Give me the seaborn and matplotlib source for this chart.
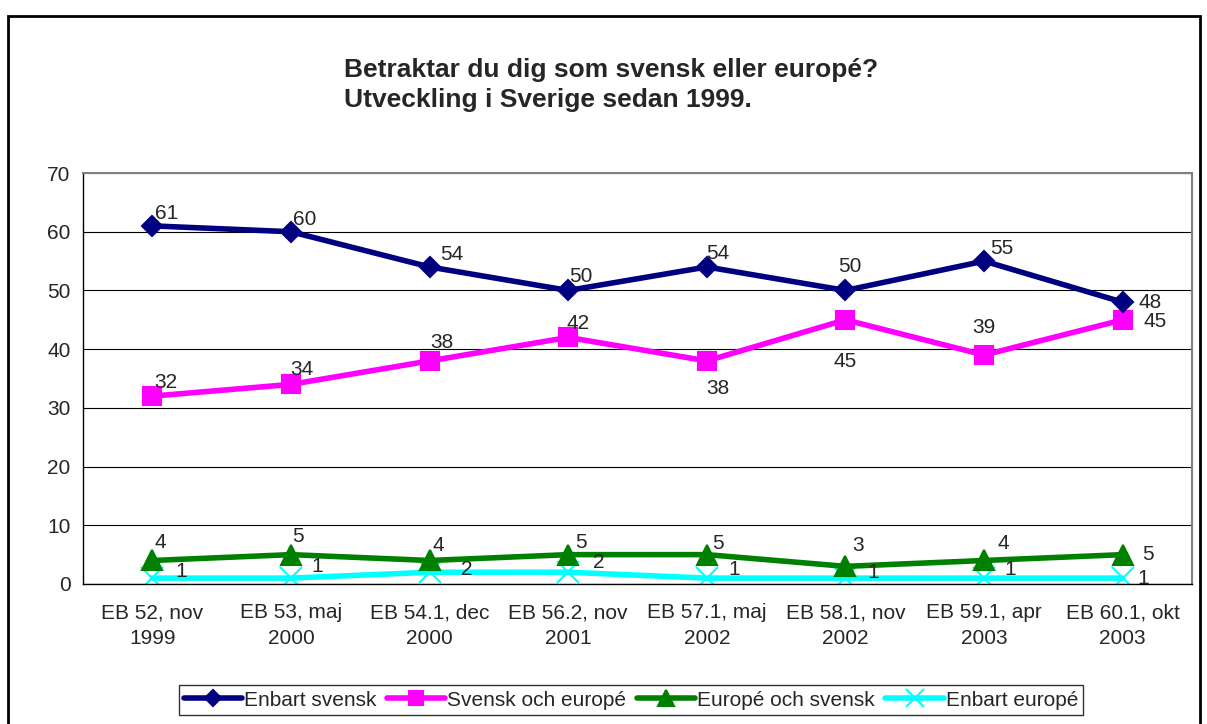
import numpy as np
import pandas as pd
import seaborn as sns
from matplotlib import pyplot as plt
from matplotlib.patches import Rectangle

categories = ['EB 52, nov\n1999', 'EB 53, maj\n2000', 'EB 54.1, dec\n2000', 'EB 56.2, nov\n2001',
              'EB 57.1, maj\n2002', 'EB 58.1, nov\n2002', 'EB 59.1, apr\n2003', 'EB 60.1, okt\n2003']
enbart_svensk = [61, 60, 54, 50, 54, 50, 55, 48]
svensk_och_europe = [32, 34, 38, 42, 38, 45, 39, 45]
europe_och_svensk = [4, 5, 4, 5, 5, 3, 4, 5]
enbart_europe = [1, 1, 2, 2, 1, 1, 1, 1]
series_names = ['Enbart svensk', 'Svensk och europé', 'Europé och svensk', 'Enbart europé']
title = 'Betraktar du dig som svensk eller europé?\nUtveckling i Sverige sedan 1999.'

sns.set_style('white')
plt.rcParams['font.family'] = ['Liberation Sans', 'DejaVu Sans']

rows = []
for name, vals in zip(series_names, [enbart_svensk, svensk_och_europe, europe_och_svensk, enbart_europe]):
    for i, v in enumerate(vals):
        rows.append({'x': i, 'value': v, 'serie': name})
df = pd.DataFrame(rows)

colors = {'Enbart svensk': '#000080', 'Svensk och europé': '#FF00FF',
          'Europé och svensk': '#008000', 'Enbart europé': '#00FFFF'}
markers = {'Enbart svensk': 'D', 'Svensk och europé': 's',
           'Europé och svensk': '^', 'Enbart europé': 'x'}
msize = {'Enbart svensk': 10, 'Svensk och europé': 13, 'Europé och svensk': 15, 'Enbart europé': 16}
fs = 15

fig = plt.figure(figsize=(12.07, 7.24), dpi=100)
ax = fig.add_axes([0.0688, 0.1934, 0.9188, 0.5676])

# drawn last-first so navy sits on top like the original
for name in series_names[::-1]:
    sub = df[df['serie'] == name]
    sns.lineplot(data=sub, x='x', y='value', ax=ax, color=colors[name], marker=markers[name],
                 markersize=msize[name], markeredgecolor=colors[name], markeredgewidth=1.5,
                 linewidth=4, label=name, legend=False)

ax.set_xlim(-0.5, 7.5)
ax.set_ylim(0, 70)
ax.set_yticks(range(0, 71, 10))
ax.set_xticks(np.arange(-0.5, 8, 1))
ax.set_xticklabels([])
ax.set_xticks(range(8), minor=True)
ax.set_xticklabels(categories, minor=True, fontsize=fs, linespacing=1.45)
ax.tick_params(axis='x', which='minor', length=0, pad=14)
ax.tick_params(axis='x', which='major', length=6, width=1, color='black', direction='out')
ax.tick_params(axis='y', length=5, width=1, color='black', direction='out', labelsize=fs, pad=4)
ax.yaxis.grid(True, color='black', linewidth=0.8)
ax.set_axisbelow(True)
ax.set_xlabel('')
ax.set_ylabel('')
for s in ['top', 'right']:
    ax.spines[s].set_color('#808080')
    ax.spines[s].set_linewidth(1.5)
for s in ['left', 'bottom']:
    ax.spines[s].set_color('black')
    ax.spines[s].set_linewidth(1)

# data label offsets in points, placed like the original
offsets = {
    'Enbart svensk': [(10, 9), (10, 9), (16, 9), (9, 10), (8, 10), (3, 17), (13, 9), (20, 0)],
    'Svensk och europé': [(10, 10), (8, 11), (9, 13), (7, 10), (8, -20), (0, -30), (0, 20), (23, -1)],
    'Europé och svensk': [(6, 13), (5, 13), (6, 11), (9, 9), (8, 8), (9, 15), (14, 12), (18, 0)],
    'Enbart europé': [(21, 5), (19, 8), (27, 2), (22, 7), (20, 6), (20, 4), (19, 6), (15, 0)],
}
for name, vals in zip(series_names, [enbart_svensk, svensk_och_europe, europe_och_svensk, enbart_europe]):
    for i, v in enumerate(vals):
        dx, dy = offsets[name][i]
        ax.annotate(str(v), (i, v), xytext=(dx, dy), textcoords='offset points',
                    ha='center', va='center', fontsize=fs)

handles = []
for name in series_names:
    h, = ax.plot([], [], color=colors[name], marker=markers[name], markersize=msize[name] * 0.8,
                 markeredgecolor=colors[name], markeredgewidth=1.5, linewidth=4)
    handles.append(h)
leg = fig.legend(handles, series_names, loc='center', bbox_to_anchor=(631 / 1207, 1 - 700 / 724),
                 ncol=4, fontsize=fs, frameon=True, fancybox=False, edgecolor='black',
                 handlelength=2.8, handletextpad=0.1, columnspacing=0.5, borderpad=0.25)
leg.get_frame().set_linewidth(1)

fig.text(344 / 1207, 1 - 85 / 724, title, fontsize=19, fontweight='bold', ha='left', va='center',
         linespacing=1.35)

fig.patches.append(Rectangle((8 / 1207, -0.01), 1192 / 1207, 1 - 16 / 724 + 0.01,
                             transform=fig.transFigure, fill=False, edgecolor='black', linewidth=2))

fig.savefig('out.png', dpi=100)
